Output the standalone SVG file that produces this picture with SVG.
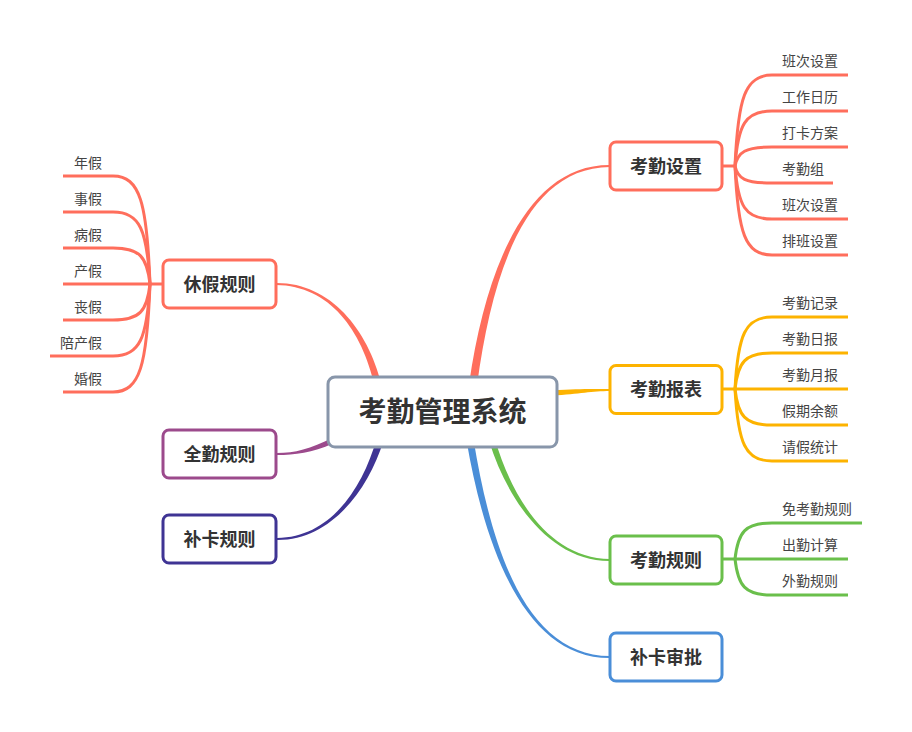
<svg xmlns="http://www.w3.org/2000/svg" width="912" height="732" viewBox="0 0 912 732">
<style>
.node rect{fill:#fff;stroke-width:3}
.nt{font-family:"Noto Sans CJK SC","Liberation Sans",sans-serif;font-weight:bold;font-size:18px;fill:#333;text-anchor:middle}
.ct{font-family:"Noto Sans CJK SC","Liberation Sans",sans-serif;font-weight:bold;font-size:28px;fill:#333;text-anchor:middle}
.lt{font-family:"Noto Sans CJK SC","Liberation Sans",sans-serif;font-size:14px;fill:#444}
.le{text-anchor:end}
.sb{fill:none;stroke-width:3;stroke-linecap:butt}
.coral{stroke:#ff6e5c}
.yel{stroke:#fdb300}
.grn{stroke:#6abf4b}
</style>
<rect width="912" height="732" fill="#fff"/>
<g id="connectors">
  <!-- main tapered connectors -->
  <path d="M469,384.5 C486.5,261.5 530,164.5 610,165 L610,167 C530,167.5 493.5,262.5 477,385.5 Z" fill="#ff6e5c"/>
  <path d="M552,390.5 C580,388.5 592,389 610,389 L610,391 C592,391 580,394 552,395.5 Z" fill="#fdb300"/>
  <path d="M494.9,439.1 C512.4,499.3 550,558.5 610,559 L610,561 C550,561.5 507.6,500.7 489.1,440.9 Z" fill="#6abf4b"/>
  <path d="M473.5,439.4 C493,559.5 530,655.5 610,656 L610,658 C530,658.5 487,560.5 466.5,440.6 Z" fill="#4a8ed8"/>
  <path d="M374.6,385.8 C362.1,330.7 330,285.5 276,285 L276,283 C330,282.5 367.9,329.3 381.4,384.2 Z" fill="#ff6e5c"/>
  <path d="M333,437.5 C310,449 295,453 277,453 L277,455 C295,455 312,453 333,443.5 Z" fill="#9c4a8c"/>
  <path d="M383.4,441 C367.9,490.9 330,540.5 277,540 L277,538 C330,537.5 362.1,489.1 376.6,439 Z" fill="#3f3494"/>
  <!-- 考勤设置 sub-branches -->
  <g class="sb coral">
    <path d="M722,166 L735,166"/>
    <path d="M735,166 C738,98 745,75 772,75 L848,75"/>
    <path d="M735,166 C738,125 745,111 772,111 L848,111"/>
    <path d="M735,166 C738,152 745,147 772,147 L848,147"/>
    <path d="M735,166 C738,179 745,183 772,183 L833,183"/>
    <path d="M735,166 C738,206 745,219 772,219 L848,219"/>
    <path d="M735,166 C738,233 745,255 772,255 L848,255"/>
  </g>
  <!-- 考勤报表 sub-branches -->
  <g class="sb yel">
    <path d="M722,389 L735,389"/>
    <path d="M735,389 C738,335 745,317 772,317 L848,317"/>
    <path d="M735,389 C738,362 745,353 772,353 L848,353"/>
    <path d="M735,389 L848,389"/>
    <path d="M735,389 C738,416 745,425 772,425 L848,425"/>
    <path d="M735,389 C738,443 745,461 772,461 L848,461"/>
  </g>
  <!-- 考勤规则 sub-branches -->
  <g class="sb grn">
    <path d="M722,559 L735,559"/>
    <path d="M735,559 C738,532 745,523 772,523 L862,523"/>
    <path d="M735,559 L848,559"/>
    <path d="M735,559 C738,586 745,595 772,595 L848,595"/>
  </g>
  <!-- 休假规则 sub-branches -->
  <g class="sb coral">
    <path d="M163,284 L150,284"/>
    <path d="M150,284 C147,203 140,176 113,176 L63,176"/>
    <path d="M150,284 C147,230 140,212 113,212 L63,212"/>
    <path d="M150,284 C147,257 140,248 113,248 L63,248"/>
    <path d="M150,284 L63,284"/>
    <path d="M150,284 C147,311 140,320 113,320 L63,320"/>
    <path d="M150,284 C147,338 140,356 113,356 L50,356"/>
    <path d="M150,284 C147,365 140,392 113,392 L63,392"/>
  </g>
</g>
<g id="center" class="node">
  <rect x="328" y="377" width="229" height="70" rx="7" stroke="#8896aa"/>
  <text class="ct" x="442.5" y="422">考勤管理系统</text>
</g>
<g id="n-kqsz" class="node">
  <rect x="610" y="142" width="112" height="48" rx="6" stroke="#ff6e5c"/>
  <text class="nt" x="666" y="172.5">考勤设置</text>
</g>
<g id="n-kqbb" class="node">
  <rect x="610" y="365.5" width="112" height="48" rx="6" stroke="#fdb300"/>
  <text class="nt" x="666" y="396">考勤报表</text>
</g>
<g id="n-kqgz" class="node">
  <rect x="610" y="536" width="112" height="48" rx="6" stroke="#6abf4b"/>
  <text class="nt" x="666" y="566.5">考勤规则</text>
</g>
<g id="n-bksp" class="node">
  <rect x="610" y="633" width="112" height="48" rx="6" stroke="#4a8ed8"/>
  <text class="nt" x="666" y="663.5">补卡审批</text>
</g>
<g id="n-xjgz" class="node">
  <rect x="163" y="260" width="113" height="48" rx="6" stroke="#ff6e5c"/>
  <text class="nt" x="219.5" y="290.5">休假规则</text>
</g>
<g id="n-qqgz" class="node">
  <rect x="163" y="430" width="113" height="48" rx="6" stroke="#9c4a8c"/>
  <text class="nt" x="219.5" y="460.5">全勤规则</text>
</g>
<g id="n-bkgz" class="node">
  <rect x="163" y="515" width="113" height="48" rx="6" stroke="#3f3494"/>
  <text class="nt" x="219.5" y="545.5">补卡规则</text>
</g>
<g id="leaves-kqsz">
  <text class="lt" x="782" y="66">班次设置</text>
  <text class="lt" x="782" y="102">工作日历</text>
  <text class="lt" x="782" y="138">打卡方案</text>
  <text class="lt" x="782" y="174">考勤组</text>
  <text class="lt" x="782" y="210">班次设置</text>
  <text class="lt" x="782" y="246">排班设置</text>
</g>
<g id="leaves-kqbb">
  <text class="lt" x="782" y="308">考勤记录</text>
  <text class="lt" x="782" y="344">考勤日报</text>
  <text class="lt" x="782" y="380">考勤月报</text>
  <text class="lt" x="782" y="416">假期余额</text>
  <text class="lt" x="782" y="452">请假统计</text>
</g>
<g id="leaves-kqgz">
  <text class="lt" x="782" y="514">免考勤规则</text>
  <text class="lt" x="782" y="550">出勤计算</text>
  <text class="lt" x="782" y="586">外勤规则</text>
</g>
<g id="leaves-xjgz">
  <text class="lt le" x="102" y="168">年假</text>
  <text class="lt le" x="102" y="204">事假</text>
  <text class="lt le" x="102" y="240">病假</text>
  <text class="lt le" x="102" y="276">产假</text>
  <text class="lt le" x="102" y="312">丧假</text>
  <text class="lt le" x="102" y="348">陪产假</text>
  <text class="lt le" x="102" y="384">婚假</text>
</g>
</svg>
